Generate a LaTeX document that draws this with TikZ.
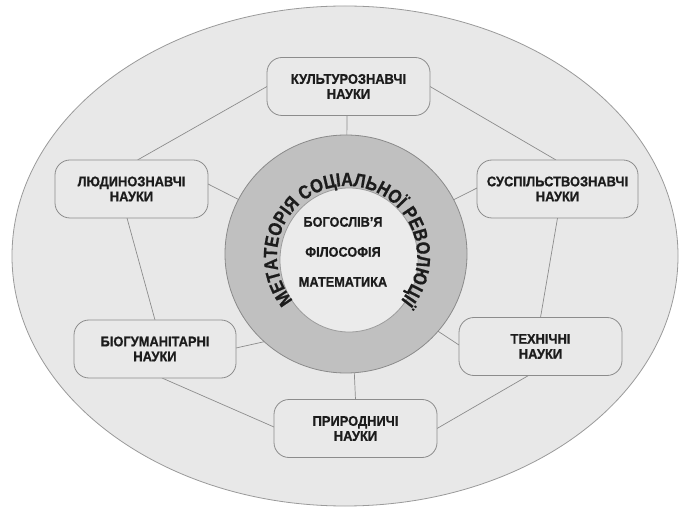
\documentclass[tikz,border=0pt]{standalone}
\usepackage{fontspec}
\setmainfont{Liberation Sans}[BoldFont={Liberation Sans Bold}, BoldFeatures={FakeBold=0.8}, FakeStretch=0.92]
\newfontfamily\titlefont{Liberation Sans Bold}[FakeStretch=0.86, FakeBold=0.8]
\usetikzlibrary{shapes.geometric,decorations.text,calc}
\pgfdeclarelayer{bgA}
\pgfdeclarelayer{bgB}
\pgfsetlayers{bgA,bgB,main}
\definecolor{outerfill}{HTML}{E8E8E8}
\definecolor{outerline}{HTML}{9A9A9A}
\definecolor{ringfill}{HTML}{C0C0C0}
\definecolor{ringline}{HTML}{8A8A8A}
\definecolor{corefill}{HTML}{EBEBEB}
\definecolor{coreline}{HTML}{9C9C9C}
\definecolor{boxfill}{HTML}{E9E9E9}
\definecolor{boxline}{HTML}{8C8C8C}
\definecolor{linecol}{HTML}{8C8C8C}
\definecolor{textcol}{HTML}{1C1C1C}
\begin{document}
\begin{tikzpicture}[x=1pt,y=1pt,
  box/.style={draw=boxline, fill=boxfill, rounded corners=15pt, line width=0.8pt,
    minimum width=#1, minimum height=58pt, align=center, inner sep=0pt, outer sep=0pt,
    font=\bfseries\fontsize{14}{15}\selectfont, text=textcol},
  ellnode/.style={ellipse, inner sep=0pt, outer sep=0pt},
  coretext/.style={anchor=base, inner sep=0pt, font=\bfseries\fontsize{13.8}{15}\selectfont, text=textcol},
  link/.style={draw=linecol, line width=0.7pt}]
\useasboundingbox (0,0) rectangle (679,506);

% background and outer ellipse
\begin{pgfonlayer}{bgA}
\fill[white] (0,0) rectangle (679,506);
\node[ellnode, draw=outerline, fill=outerfill, line width=0.8pt, minimum width=666pt, minimum height=500pt] (outer) at (345,250) {};
\end{pgfonlayer}

% central rings
\node[ellnode, draw=ringline, fill=ringfill, line width=0.8pt, minimum width=242pt, minimum height=238pt] (ring) at (346,252) {};
\node[ellnode, draw=coreline, fill=corefill, line width=0.8pt, minimum width=138pt, minimum height=144pt] (core) at (349,246) {};

\node[coretext] (t1) at (343,279.3) {БОГОСЛІВ'Я};
\node[coretext] (t2) at (343,249.3) {ФІЛОСОФІЯ};
\node[coretext] (t3) at (343,219.3) {МАТЕМАТИКА};

\path[decorate, decoration={text along path, text align=center,
  text={|\titlefont\fontsize{19}{19}\selectfont\color{textcol}|МЕТАТЕОРІЯ СОЦІАЛЬНОЇ РЕВОЛЮЦІЇ}}]
  (347,250) ++(218:70) arc[start angle=218, end angle=-38, radius=70];

% boxes
\node[box=163pt] (kult) at (348.5,419.5) {КУЛЬТУРОЗНАВЧІ\\НАУКИ};
\node[box=153pt] (lyud) at (131.5,317) {ЛЮДИНОЗНАВЧІ\\НАУКИ};
\node[box=161pt] (susp) at (557.5,317) {СУСПІЛЬСТВОЗНАВЧІ\\НАУКИ};
\node[box=162pt] (biog) at (155,157) {БІОГУМАНІТАРНІ\\НАУКИ};
\node[box=163pt] (tekh) at (540.5,159.5) {ТЕХНІЧНІ\\НАУКИ};
\node[box=163pt] (pryr) at (355.5,77.5) {ПРИРОДНИЧІ\\НАУКИ};

% connectors
\begin{pgfonlayer}{bgB}
\draw[link] (kult.west) -- ([xshift=6pt]lyud.north);
\draw[link] (kult.east) -- ([xshift=-1.5pt]susp.north);
\draw[link] ([xshift=-4.5pt]lyud.south) -- (biog.north);
\draw[link] (susp.south) -- (tekh.north);
\draw[link] ([xshift=7pt]biog.south) -- ([yshift=1.5pt]pryr.west);
\draw[link] ([xshift=-12pt]tekh.south) -- (pryr.east);
\draw[link] ([xshift=-1.5pt]kult.south) -- (ring);
\draw[link] ([yshift=5pt]lyud.east) -- (ring);
\draw[link] ([yshift=1pt]susp.west) -- (ring);
\draw[link] ([yshift=1pt]biog.east) -- (ring.227);
\draw[link] ([yshift=1.5pt]tekh.west) -- (ring.320);
\draw[link] (pryr.north) -- (ring.274);
\end{pgfonlayer}
\end{tikzpicture}
\end{document}
